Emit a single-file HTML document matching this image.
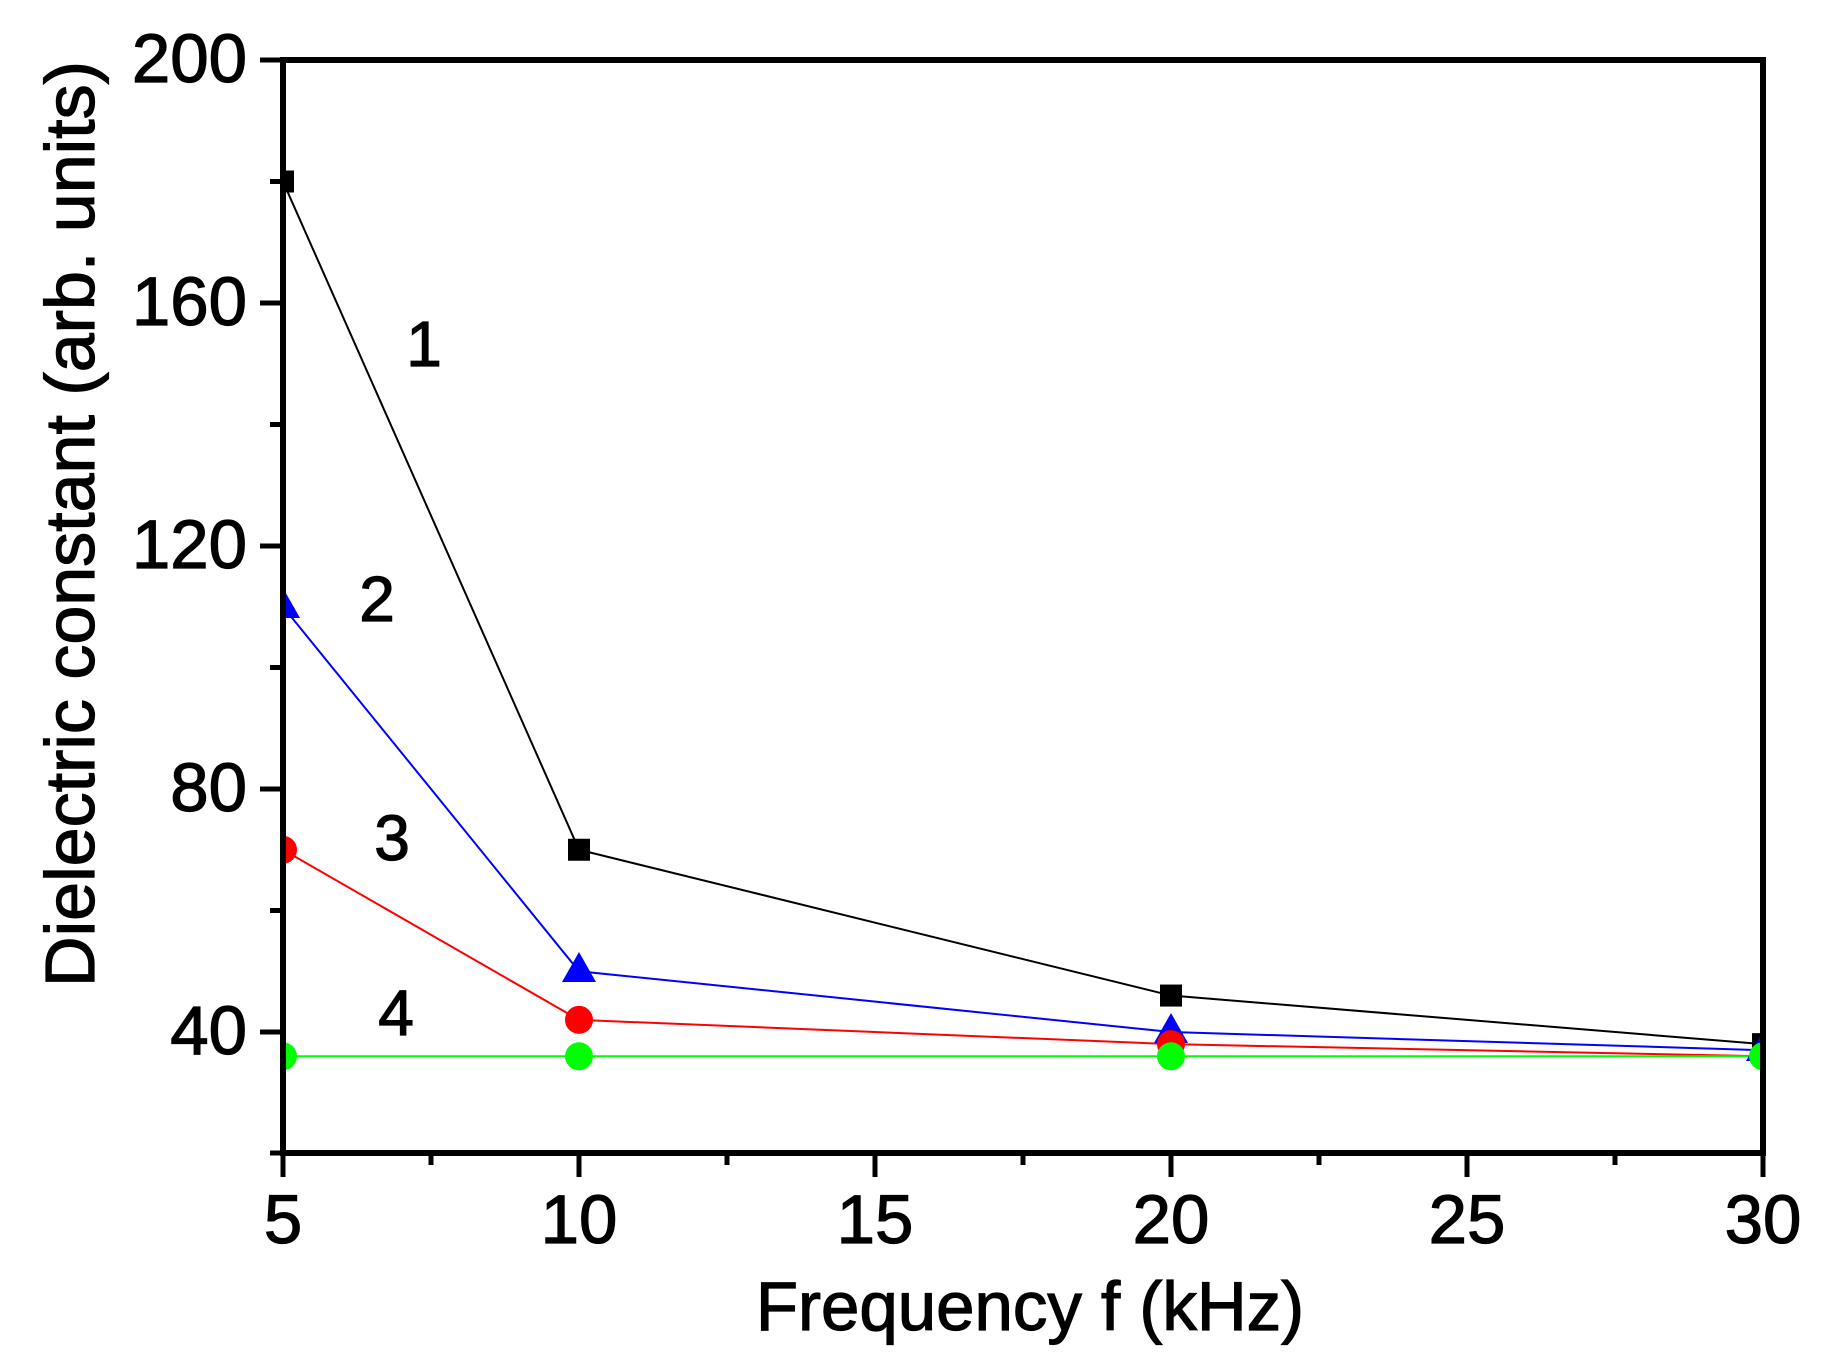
<!DOCTYPE html>
<html><head><meta charset="utf-8"><style>html,body{margin:0;padding:0;background:#fff}svg{display:block}</style></head>
<body>
<svg width="1825" height="1364" viewBox="0 0 1825 1364" xmlns="http://www.w3.org/2000/svg" font-family="Liberation Sans, Arial, sans-serif">
<defs><clipPath id="c"><rect x="283" y="60" width="1480" height="1093"/></clipPath></defs>
<g clip-path="url(#c)">
<polyline points="283,181.5 579,849.75 1171,995.55 1763,1044.15" fill="none" stroke="#000" stroke-width="2"/>
<polyline points="283,606.75 579,971.25 1171,1032 1763,1050.2" fill="none" stroke="#00f" stroke-width="2"/>
<polyline points="283,849.75 579,1019.85 1171,1044.15 1763,1056.3" fill="none" stroke="#f00" stroke-width="2"/>
<polyline points="283,1056.3 579,1056.3 1171,1056.3 1763,1056.3" fill="none" stroke="#0f0" stroke-width="2"/>
<g fill="#000">
<rect x="272" y="170.5" width="22" height="22"/><rect x="568" y="838.75" width="22" height="22"/><rect x="1160" y="984.55" width="22" height="22"/><rect x="1752" y="1033.15" width="22" height="22"/></g>
<g fill="#00f">
<polygon points="283,588 300,618 266,618"/><polygon points="579,952 596,982 562,982"/><polygon points="1171,1013 1188,1043 1154,1043"/><polygon points="1763,1031 1780,1061 1746,1061"/></g>
<g fill="#f00">
<circle cx="283" cy="849.75" r="14"/><circle cx="579" cy="1019.85" r="14"/><circle cx="1171" cy="1044.15" r="14"/></g>
<g fill="#0f0">
<circle cx="283" cy="1056.3" r="14"/><circle cx="579" cy="1056.3" r="14"/><circle cx="1171" cy="1056.3" r="14"/><circle cx="1763" cy="1056.3" r="14"/></g>
</g>
<rect x="283" y="60" width="1480" height="1093" fill="none" stroke="#000" stroke-width="6"/>
<g stroke="#000" stroke-width="5">
<line x1="260" y1="60" x2="283" y2="60"/><line x1="260" y1="303" x2="283" y2="303"/><line x1="260" y1="546" x2="283" y2="546"/><line x1="260" y1="789" x2="283" y2="789"/><line x1="260" y1="1032" x2="283" y2="1032"/>
<line x1="270" y1="181.5" x2="283" y2="181.5"/><line x1="270" y1="424.5" x2="283" y2="424.5"/><line x1="270" y1="667.5" x2="283" y2="667.5"/><line x1="270" y1="910.5" x2="283" y2="910.5"/><line x1="270" y1="1153" x2="283" y2="1153"/>
<line x1="283" y1="1153" x2="283" y2="1177"/><line x1="579" y1="1153" x2="579" y2="1177"/><line x1="875" y1="1153" x2="875" y2="1177"/><line x1="1171" y1="1153" x2="1171" y2="1177"/><line x1="1467" y1="1153" x2="1467" y2="1177"/><line x1="1763" y1="1153" x2="1763" y2="1177"/>
<line x1="431" y1="1153" x2="431" y2="1165"/><line x1="727" y1="1153" x2="727" y2="1165"/><line x1="1023" y1="1153" x2="1023" y2="1165"/><line x1="1319" y1="1153" x2="1319" y2="1165"/><line x1="1615" y1="1153" x2="1615" y2="1165"/>
</g>
<g fill="#000" stroke="#000" stroke-width="1.2">
<g font-size="69" text-anchor="end">
<text x="247" y="82">200</text><text x="247" y="325">160</text><text x="247" y="568">120</text><text x="247" y="811">80</text><text x="247" y="1054">40</text>
</g>
<g font-size="69" text-anchor="middle">
<text x="283" y="1243">5</text><text x="579" y="1243">10</text><text x="875" y="1243">15</text><text x="1171" y="1243">20</text><text x="1467" y="1243">25</text><text x="1763" y="1243">30</text>
<text x="1030" y="1330">Frequency f (kHz)</text>
<text transform="translate(94,524) rotate(-90)" font-size="70">Dielectric constant (arb. units)</text>
</g>
<g font-size="64" text-anchor="middle">
<text x="424" y="366">1</text><text x="377" y="621">2</text><text x="392" y="860">3</text><text x="396" y="1035">4</text>
</g>
</g>
</svg>
</body></html>
